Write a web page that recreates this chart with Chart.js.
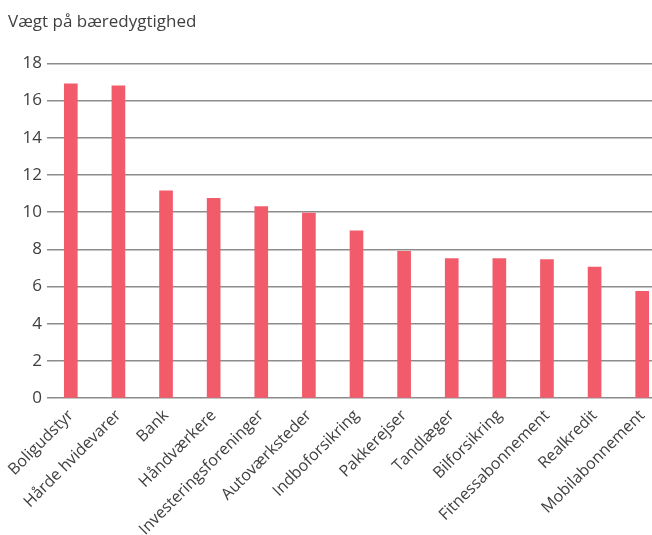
<!DOCTYPE html>
<html><head><meta charset="utf-8">
<script src="https://cdn.jsdelivr.net/npm/chart.js@4/dist/chart.umd.min.js"></script>
<style>
html,body{margin:0;padding:0;background:#fff;overflow:hidden;width:652px;height:535px;}
#wrap{position:absolute;left:0;top:0;width:668px;height:535px;}
</style></head>
<body>
<div id="wrap"><canvas id="c"></canvas></div>
<script>
const categories = ["Boligudstyr","Hårde hvidevarer","Bank","Håndværkere","Investeringsforeninger","Autoværksteder","Indboforsikring","Pakkerejser","Tandlæger","Bilforsikring","Fitnessabonnement","Realkredit","Mobilabonnement"];
const values = [16.9,16.8,11.15,10.75,10.3,9.95,9.0,7.9,7.5,7.5,7.45,7.05,5.75];
const yTicks = [0,2,4,6,8,10,12,14,16,18];
const titleText = "Vægt på bæredygtighed";

new Chart(document.getElementById('c'), {
  type: 'bar',
  data: { labels: categories, datasets: [{ data: values, backgroundColor: '#F15B6A', borderWidth: 0, barThickness: 13 }] },
  options: {
    responsive: true, maintainAspectRatio: false, animation: false,
    layout: { padding: { left: 8, top: 12, right: 2, bottom: 0 } },
    plugins: {
      legend: { display: false }, tooltip: { enabled: false },
      title: { display: true, text: titleText, align: 'start', color: '#404040',
        font: { family: 'Open Sans', size: 17, weight: 'normal' }, padding: { top: 0, bottom: 31 } }
    },
    scales: {
      x: {
        grid: { display: false },
        border: { display: false },
        afterFit: s => { s.height = s.height - 4; },
        ticks: { color: '#404040', font: { family: 'Open Sans', size: 16 }, minRotation: 45, maxRotation: 45, autoSkip: false, padding: 0 }
      },
      y: {
        min: 0, max: 18,
        afterBuildTicks: s => { s.ticks = yTicks.map(v => ({ value: v })); },
        afterFit: s => { s.width = 39; },
        grid: { color: '#8c8c8c', lineWidth: 1.5, drawTicks: false },
        border: { display: false },
        ticks: { color: '#404040', font: { family: 'Open Sans', size: 17 }, padding: 5 }
      }
    }
  }
});
</script>
</body></html>
